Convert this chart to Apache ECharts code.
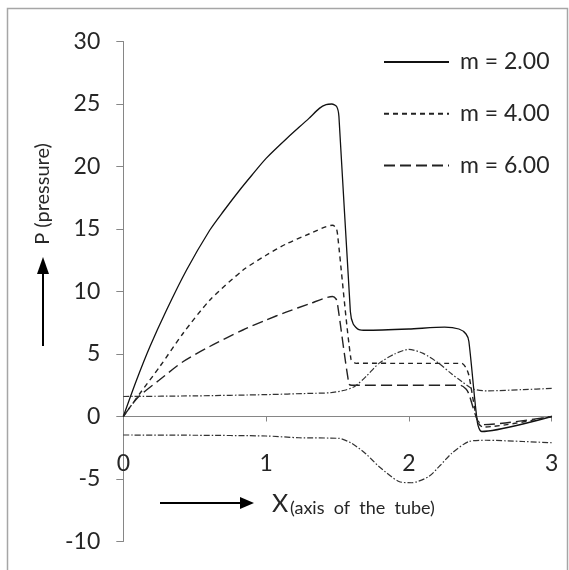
<!DOCTYPE html>
<html>
<head>
<meta charset="utf-8">
<script src="https://cdn.jsdelivr.net/npm/echarts@6/dist/echarts.min.js"></script>
<style>
html,body{margin:0;padding:0;background:#fff;}
#chart{width:569px;height:570px;}
</style>
</head>
<body>
<div id="chart"></div>
<script>
// ---- data ----
const xTicks = [0, 1, 2, 3];
const yTicks = [-10, -5, 0, 5, 10, 15, 20, 25, 30];
const seriesNames = ['m = 2.00', 'm = 4.00', 'm = 6.00'];

const m2X = [0, 0.093, 0.186, 0.303, 0.442, 0.605, 0.7, 0.814, 0.9, 1.0, 1.15, 1.3, 1.373, 1.42, 1.46, 1.494, 1.51, 1.59, 1.61, 1.65, 1.70, 2.0, 2.25, 2.35, 2.40, 2.42, 2.48, 2.51, 3.0];
const m2Y = [0, 2.92, 5.58, 8.52, 11.7, 14.9, 16.4, 18.1, 19.3, 20.65, 22.3, 23.85, 24.65, 24.95, 25.0, 24.8, 24.0, 8.4, 7.4, 6.95, 6.9, 7.0, 7.15, 7.0, 6.6, 6.0, -0.5, -1.2, 0];

const m4X = [0, 0.12, 0.256, 0.419, 0.605, 0.837, 1.0, 1.14, 1.3, 1.465, 1.49, 1.5, 1.594, 1.63, 1.65, 2.0, 2.37, 2.40, 2.42, 2.48, 2.52, 3.0];
const m4Y = [0, 1.9, 4.0, 6.66, 9.3, 11.7, 12.9, 13.8, 14.6, 15.3, 15.1, 14.6, 4.6, 4.25, 4.26, 4.25, 4.25, 3.9, 3.3, -0.4, -0.85, 0];

const m6X = [0, 0.1, 0.25, 0.42, 0.605, 0.837, 1.0, 1.14, 1.3, 1.465, 1.49, 1.5, 1.58, 1.60, 2.0, 2.36, 2.40, 2.42, 2.48, 2.52, 3.0];
const m6Y = [0, 1.5, 2.9, 4.4, 5.6, 6.92, 7.72, 8.35, 9.0, 9.6, 9.4, 9.0, 2.6, 2.5, 2.5, 2.5, 2.2, 1.8, -0.3, -0.65, 0];

const wallUpX = [0, 0.5, 1.0, 1.3, 1.45, 1.55, 1.62, 1.7, 1.79, 1.9, 2.0, 2.1, 2.21, 2.3, 2.37, 2.45, 2.55, 2.8, 3.0];
const wallUpY = [1.6, 1.65, 1.75, 1.85, 1.9, 2.1, 2.4, 3.2, 4.25, 5.0, 5.37, 5.05, 4.25, 3.4, 2.8, 2.2, 2.05, 2.15, 2.25];

const wallLoX = [0, 0.5, 1.0, 1.23, 1.51, 1.6, 1.7, 1.79, 1.93, 2.02, 2.14, 2.22, 2.30, 2.42, 2.54, 2.8, 3.0];
const wallLoY = [-1.48, -1.5, -1.56, -1.7, -1.75, -2.15, -3.0, -4.0, -5.2, -5.3, -4.8, -3.9, -2.95, -2.0, -1.9, -2.0, -2.1];

function pts(xs, ys) { return xs.map((x, i) => [x, ys[i]]); }

const FONT = 'Lato';
const TXT = '#262626';
const AX = '#868686';

const chart = echarts.init(document.getElementById('chart'), null, {renderer: 'canvas'});

function lineSeries(name, data, type, width, color) {
  return {
    name: name,
    type: 'line',
    data: data,
    showSymbol: false,
    symbol: 'none',
    smooth: 0.25,
    lineStyle: {color: color, width: width, type: type},
    itemStyle: {color: color},
    emphasis: {disabled: true},
    z: 3
  };
}

const GRID_BOTTOM = 28.5;
const GRID_TOP = 41.5;
const PLOT_H = 570 - GRID_TOP - GRID_BOTTOM;
// distance from grid bottom (y=-10) up to the y=0 line
const zeroOffset = PLOT_H * (0 - yTicks[0]) / (yTicks[yTicks.length - 1] - yTicks[0]);

chart.setOption({
  animation: false,
  backgroundColor: '#ffffff',
  grid: {left: 123.3, right: 17.3, top: GRID_TOP, bottom: GRID_BOTTOM, containLabel: false, outerBoundsMode: 'none'},
  xAxis: {
    type: 'value',
    position: 'bottom',
    offset: -zeroOffset,
    min: xTicks[0], max: xTicks[xTicks.length - 1], interval: 1,
    axisLine: {show: true, onZero: false, lineStyle: {color: AX, width: 1}},
    axisTick: {show: true, inside: false, length: 5, lineStyle: {color: AX}},
    splitLine: {show: false},
    axisLabel: {
      margin: 36, color: TXT, fontFamily: FONT, fontSize: 23, hideOverlap: false,
      formatter: v => xTicks.includes(v) ? String(v) : ''
    }
  },
  yAxis: {
    type: 'value',
    min: yTicks[0], max: yTicks[yTicks.length - 1], interval: 5,
    axisLine: {show: true, onZero: false, lineStyle: {color: AX, width: 1}},
    axisTick: {show: true, inside: false, length: 7, lineStyle: {color: AX}},
    splitLine: {show: false},
    axisLabel: {
      margin: 23, color: TXT, fontFamily: FONT, fontSize: 23,
      formatter: v => yTicks.includes(v) ? String(v) : ''
    }
  },
  legend: {
    data: seriesNames,
    orient: 'vertical',
    left: 383,
    top: 50,
    padding: 0,
    itemWidth: 65,
    itemHeight: 14,
    itemGap: 27.7,
    selectedMode: false,
    itemStyle: {opacity: 0},
    textStyle: {fontFamily: FONT, fontSize: 23, color: TXT, lineHeight: 24, padding: [0, 0, 0, 6]}
  },
  series: [
    lineSeries(seriesNames[0], pts(m2X, m2Y), 'solid', 1.3, '#111'),
    lineSeries(seriesNames[1], pts(m4X, m4Y), [5, 4], 1.4, '#222'),
    lineSeries(seriesNames[2], pts(m6X, m6Y), [11, 5], 1.4, '#222'),
    lineSeries('wallUpper', pts(wallUpX, wallUpY), [6, 2, 1.5, 2], 1.2, '#333'),
    lineSeries('wallLower', pts(wallLoX, wallLoY), [6, 2, 1.5, 2], 1.2, '#333')
  ],
  graphic: [
    {type: 'rect', shape: {x: 7.5, y: 8.5, width: 560, height: 580},
     style: {fill: 'none', stroke: '#a6a6a6', lineWidth: 1.5}, z: 10, silent: true},
    {type: 'text', x: 43, y: 194, rotation: Math.PI / 2,
     style: {text: 'P (pressure)', font: '20px Lato', fill: TXT, textAlign: 'center', textVerticalAlign: 'middle'}},
    {type: 'line', shape: {x1: 43, y1: 346, x2: 43, y2: 272}, style: {stroke: '#000', lineWidth: 2}},
    {type: 'polygon', shape: {points: [[43, 257], [37, 274], [49, 274]]}, style: {fill: '#000'}},
    {type: 'line', shape: {x1: 160, y1: 503, x2: 242, y2: 503}, style: {stroke: '#000', lineWidth: 2}},
    {type: 'polygon', shape: {points: [[254, 503], [240, 497], [240, 509]]}, style: {fill: '#000'}},
    {type: 'text', x: 272, y: 504,
     style: {text: 'X', font: '25px Lato', fill: TXT, textAlign: 'left', textVerticalAlign: 'middle'}},
    {type: 'text', x: 290, y: 508,
     style: {text: '(axis  of  the  tube)', font: '18px Lato', fill: TXT, textAlign: 'left', textVerticalAlign: 'middle'}}
  ]
});
</script>
</body>
</html>
